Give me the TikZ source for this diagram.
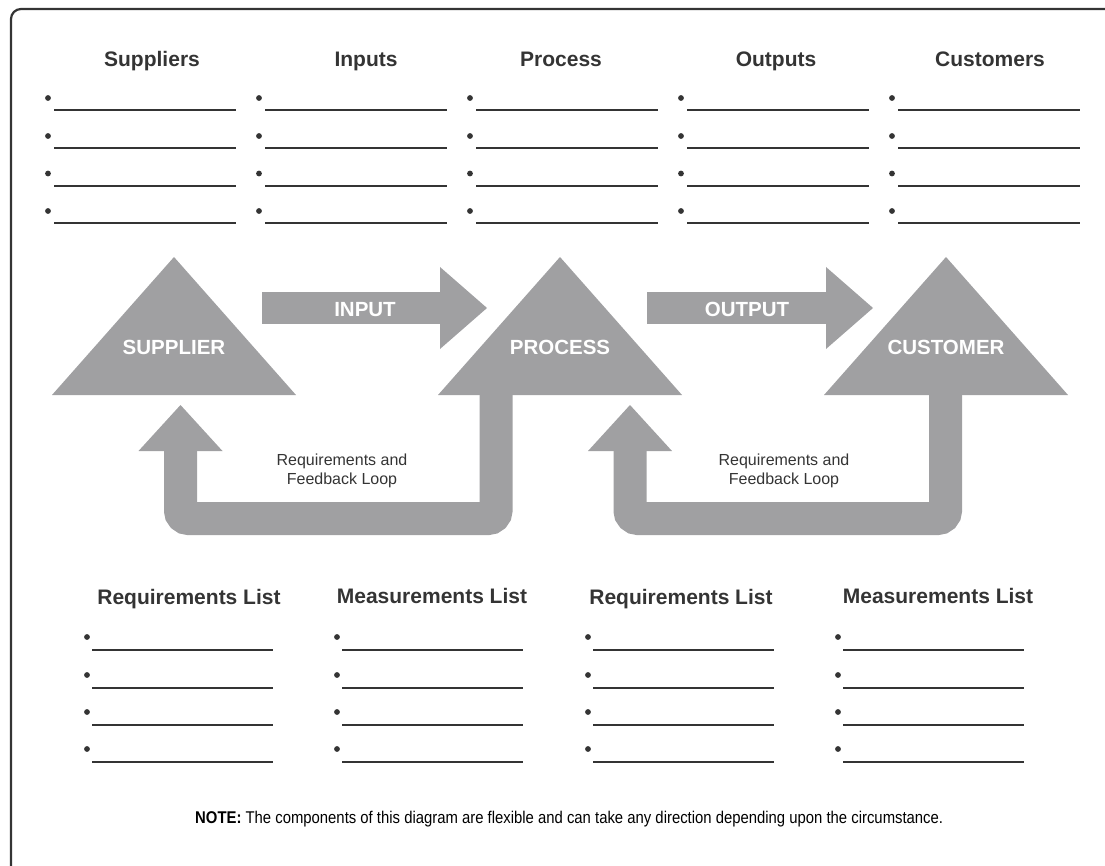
\documentclass[tikz,border=0pt]{standalone}
\usepackage{fontspec}
\setmainfont{Liberation Sans}
\usetikzlibrary{arrows.meta}
\definecolor{flowgray}{RGB}{160,160,162}
\definecolor{inkgray}{RGB}{52,52,52}
\tikzset{
  colhead/.style={anchor=base, inner sep=0pt, text=inkgray, font=\fontsize{21}{25}\selectfont\bfseries},
  tritext/.style={anchor=base, inner sep=0pt, text=white, font=\fontsize{20.5}{24}\selectfont\bfseries},
  looptext/.style={anchor=base, inner sep=0pt, text=inkgray, font=\fontsize{16}{19}\selectfont},
  blank/.style={draw=inkgray, line width=2pt},
  fatarrow/.style={draw=flowgray, line width=32pt, -{Triangle[length=47pt,width=82pt,line width=0pt]}},
  feedback/.style={draw=flowgray, line width=33pt, rounded corners=8pt, -{Triangle[length=46pt,width=84pt,line width=0pt]}},
}
\begin{document}
\begin{tikzpicture}[x=1pt,y=-1pt]
    \useasboundingbox (0,0) rectangle (1105,866);
    \clip (0,0) rectangle (1105,866);
    \draw[inkgray, line width=2.2pt, rounded corners=10pt] (11,900) |- (1200,9);

    \node[colhead] (hsup) at (152,67) {Suppliers};
    \node[colhead] (hin) at (366,67) {Inputs};
    \node[colhead] (hproc) at (561,67) {Process};
    \node[colhead] (hout) at (776,67) {Outputs};
    \node[colhead] (hcust) at (990,67) {Customers};
    \foreach \bx in {48,259,470,681,892}
      \foreach \by in {98,136,173.5,211} {
        \fill[inkgray] (\bx,\by) circle (2.9);
        \draw[blank] (\bx+6,\by+12.5) -- (\bx+188,\by+12.5);
      }

    \foreach \n/\x/\t in {sup/174/SUPPLIER,proc/560/PROCESS,cust/946/CUSTOMER} {
      \fill[flowgray] (\x,257) -- (\x+122,395) -- (\x-122,395) -- cycle;
      \node[tritext] (\n) at (\x,355) {\t};
    }

    \coordinate (inS) at (262,308);
    \coordinate (inE) at (487,308);
    \coordinate (outS) at (647,308);
    \coordinate (outE) at (873,308);
    \draw[fatarrow] (inS) -- (inE);
    \draw[fatarrow] (outS) -- (outE);
    \node[tritext] (inlbl) at (365,317) {INPUT};
    \node[tritext] (outlbl) at (747,317) {OUTPUT};

    \coordinate (fbA) at (496,394);
    \coordinate (fbB) at (180.5,405);
    \coordinate (fbC) at (945.5,394);
    \coordinate (fbD) at (630,405);
    \draw[feedback] (fbA) -- (fbA |- 0,518.5) -- (fbB |- 0,518.5) -- (fbB);
    \draw[feedback] (fbC) -- (fbC |- 0,518.5) -- (fbD |- 0,518.5) -- (fbD);
    \node[looptext] (fb1a) at (342,465) {Requirements and};
    \node[looptext] (fb1b) at (342,484) {Feedback Loop};
    \node[looptext] (fb2a) at (784,465) {Requirements and};
    \node[looptext] (fb2b) at (784,484) {Feedback Loop};

    \node[colhead] (req1) at (189,604.5) {Requirements List};
    \node[colhead] (mea1) at (432,603) {Measurements List};
    \node[colhead] (req2) at (681,604) {Requirements List};
    \node[colhead] (mea2) at (938,603) {Measurements List};
    \foreach \bx in {87,337,588,838}
      \foreach \by in {637,675,712,749} {
        \fill[inkgray] (\bx,\by) circle (2.9);
        \draw[blank] (\bx+5,\by+13) -- (\bx+186,\by+13);
      }

    \node[anchor=base west, inner sep=0pt, text=black, font=\fontsize{17}{20}\selectfont] (note) at (195,823)
      {\resizebox{748pt}{\height}{\textbf{NOTE:} The components of this diagram are flexible and can take any direction depending upon the circumstance.}};
\end{tikzpicture}
\end{document}
